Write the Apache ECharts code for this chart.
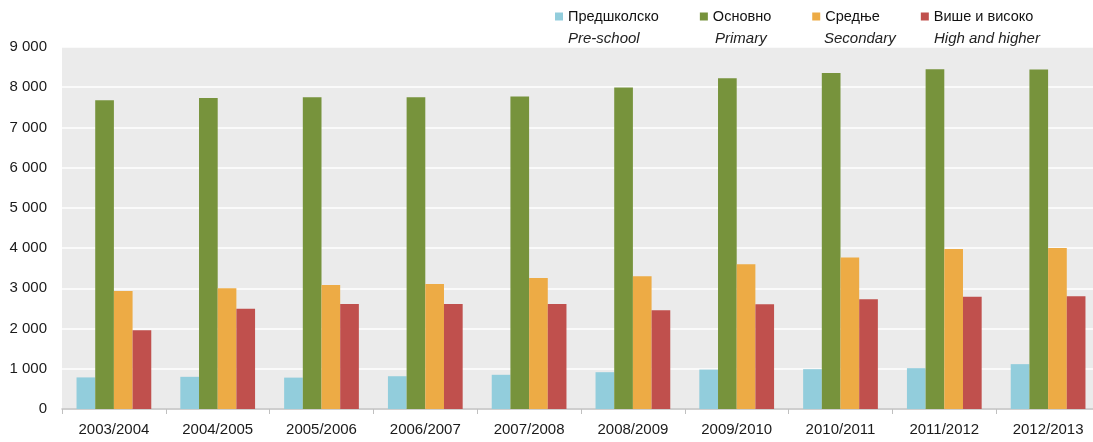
<!DOCTYPE html>
<html>
<head>
<meta charset="utf-8">
<script src="https://cdn.jsdelivr.net/npm/echarts@6/dist/echarts.min.js"></script>
<style>
html,body{margin:0;padding:0;background:#fff;}
#chart{width:1093px;height:442px;}
</style>
</head>
<body>
<div id="chart"></div>
<script>
var categories = ['2003/2004','2004/2005','2005/2006','2006/2007','2007/2008','2008/2009','2009/2010','2010/2011','2011/2012','2012/2013'];
var preschool = [785, 800, 780, 815, 850, 915, 980, 990, 1015, 1115];
var primary = [7675, 7730, 7750, 7750, 7770, 7990, 8220, 8355, 8445, 8440];
var secondary = [2935, 3000, 3085, 3110, 3255, 3300, 3600, 3765, 3980, 4005];
var higher = [1960, 2490, 2610, 2610, 2610, 2455, 2605, 2730, 2790, 2805];
var seriesNames = ['Предшколско','Основно','Средње','Више и високо'];
var seriesNamesEn = ['Pre-school','Primary','Secondary','High and higher'];
var colors = ['#92cddc','#77933c','#edab45','#c0504d'];
var yTicks = {min:0, max:9000, interval:1000};

var FONT = '"Liberation Sans",Arial,sans-serif';
var chart = echarts.init(document.getElementById('chart'));
var data = [preschool, primary, secondary, higher];
var enX = [568, 715, 824, 934];

chart.setOption({
  animation:false,
  color: colors,
  grid:{left:62, right:-7, top:47, bottom:33, show:true, backgroundColor:'#ebebeb', borderWidth:0, outerBoundsMode:'none', containLabel:false},
  legend:{
    left:550, top:4, icon:'rect', itemWidth:8, itemHeight:8, itemGap:41,
    textStyle:{fontFamily:FONT, fontSize:14.5, color:'#111'},
    data: seriesNames
  },
  graphic: seriesNamesEn.map(function(t,i){
    return {type:'text', left:enX[i], top:31, style:{text:t, font:'italic 15px '+FONT, fill:'#222'}};
  }),
  xAxis:{
    type:'category', data:categories,
    axisLine:{lineStyle:{color:'#c0c0c0', width:1.5}},
    axisTick:{show:true, length:5, lineStyle:{color:'#c0c0c0'}},
    axisLabel:{fontFamily:FONT, fontSize:15, color:'#1a1a1a', margin:13, interval:0}
  },
  yAxis:{
    type:'value', min:yTicks.min, max:yTicks.max, interval:yTicks.interval,
    axisLine:{show:false}, axisTick:{show:false},
    splitLine:{lineStyle:{color:'#ffffff', width:1.5}},
    axisLabel:{fontFamily:FONT, fontSize:15, color:'#1a1a1a', margin:15,
      formatter:function(v){return String(v).replace(/\B(?=(\d{3})+(?!\d))/g,' ');}}
  },
  series: seriesNames.map(function(n,i){
    return {name:n, type:'bar', data:data[i], barGap:'0%', barCategoryGap:'28%',
      itemStyle:{color:colors[i]}};
  })
});
</script>
</body>
</html>
